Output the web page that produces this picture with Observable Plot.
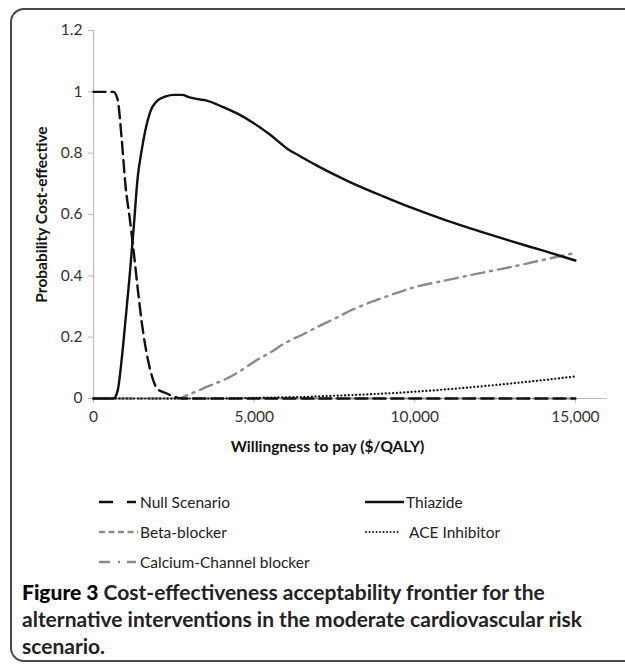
<!DOCTYPE html>
<html>
<head>
<meta charset="utf-8">
<script src="https://cdn.jsdelivr.net/npm/d3@7"></script>
<script src="https://cdn.jsdelivr.net/npm/@observablehq/plot@0.6"></script>
<style>
  html, body { margin: 0; padding: 0; background: #fff; width: 625px; height: 664px; overflow: hidden; }
  body { position: relative; font-family: Lato, "Open Sans", sans-serif; }
  #frame { position: absolute; left: 10px; top: 8px; width: 680px; height: 654px; border: 2px solid #4a4a4a; border-right: none; border-radius: 14px 0 0 14px; box-sizing: border-box; pointer-events: none; }
  #chart { position: absolute; left: 0; top: 0; }
  .leg { position: absolute; font-size: 15.5px; color: #222; height: 20px; line-height: 20px; white-space: nowrap; display: flex; align-items: center; }
  .leg svg { display: block; margin-right: 2px; }
  #caption { position: absolute; left: 22px; top: 578px; font-size: 21px; line-height: 27px; font-weight: bold; color: #222; white-space: nowrap; }
  #caption b { color: #000; }
</style>
</head>
<body>
<div id="chart"></div>
<div id="legend"></div>
<div id="caption"><b>Figure 3</b> Cost-effectiveness acceptability frontier for the<br>alternative interventions in the moderate cardiovascular risk<br>scenario.</div>
<div id="frame"></div>
<script>
// Willingness to pay ($/QALY) grid
const wtp = [0, 250, 500, 625, 750, 875, 1000, 1125, 1250, 1375, 1500, 1750, 2000, 2250, 2500, 2750, 3000, 3250, 3500, 4000, 4500, 5000, 5500, 6000, 6500, 7000, 7500, 8000, 9000, 10000, 11000, 12000, 13000, 14000, 15000];
const nullScenario = [1, 1, 1, 1, 0.975, 0.85, 0.69, 0.59, 0.48, 0.36, 0.25, 0.10, 0.03, 0.018, 0.006, 0, 0, 0, 0, 0, 0, 0, 0, 0, 0, 0, 0, 0, 0, 0, 0, 0, 0, 0, 0];
const thiazide = [0, 0, 0, 0, 0.025, 0.125, 0.26, 0.40, 0.555, 0.72, 0.81, 0.93, 0.972, 0.985, 0.99, 0.99, 0.982, 0.976, 0.972, 0.952, 0.928, 0.897, 0.86, 0.817, 0.786, 0.757, 0.73, 0.705, 0.66, 0.618, 0.58, 0.546, 0.513, 0.482, 0.45];
const betaBlocker = [0, 0, 0, 0, 0, 0, 0, 0, 0, 0, 0, 0, 0, 0, 0, 0, 0, 0, 0, 0, 0, 0, 0, 0, 0, 0, 0, 0, 0, 0, 0, 0, 0, 0, 0];
const aceInhibitor = [0, 0, 0, 0, 0, 0, 0, 0, 0, 0, 0, 0, 0, 0, 0, 0, 0, 0, 0, 0, 0.001, 0.002, 0.003, 0.004, 0.005, 0.007, 0.009, 0.011, 0.016, 0.022, 0.03, 0.039, 0.049, 0.06, 0.072];
const calciumChannel = [0, 0, 0, 0, 0, 0, 0, 0, 0, 0, 0, 0, 0, 0, 0, 0.003, 0.015, 0.025, 0.037, 0.058, 0.085, 0.12, 0.15, 0.183, 0.208, 0.235, 0.26, 0.287, 0.328, 0.363, 0.386, 0.408, 0.429, 0.452, 0.475];

const xTicks = [0, 5000, 10000, 15000];
const yTicks = [0, 0.2, 0.4, 0.6, 0.8, 1, 1.2];
const xTitle = "Willingness to pay ($/QALY)";
const yTitle = "Probability Cost-effective";

const seriesNames = ["Null Scenario", "Thiazide", "Beta-blocker", "ACE Inhibitor", "Calcium-Channel blocker"];
const seriesValues = [nullScenario, thiazide, betaBlocker, aceInhibitor, calciumChannel];
const styles = {
  "Null Scenario": {stroke: "#111", strokeWidth: 2.4, strokeDasharray: "12,6"},
  "Thiazide": {stroke: "#111", strokeWidth: 2.4},
  "Beta-blocker": {stroke: "#8a8a8a", strokeWidth: 2.2, strokeDasharray: "7,4"},
  "ACE Inhibitor": {stroke: "#111", strokeWidth: 2.2, strokeDasharray: "0.1,3.6", strokeLinecap: "round"},
  "Calcium-Channel blocker": {stroke: "#8a8a8a", strokeWidth: 2.4, strokeDasharray: "13,6,2,6"}
};
const legendSwatch = {
  "Null Scenario": "14,14,9,20",
  "Thiazide": null,
  "Beta-blocker": "6,3.5",
  "ACE Inhibitor": "0.1,3.4",
  "Calcium-Channel blocker": "11,8,2,7,9"
};

const table = s => wtp.map((x, i) => ({x, y: seriesValues[seriesNames.indexOf(s)][i]}));
const drawOrder = ["Beta-blocker", "Calcium-Channel blocker", "ACE Inhibitor", "Null Scenario", "Thiazide"];

const plot = Plot.plot({
  width: 625,
  height: 470,
  marginLeft: 93,
  marginRight: 18,
  marginTop: 30,
  marginBottom: 72,
  x: {domain: [0, 16000]},
  y: {domain: [0, 1.2]},
  style: {fontFamily: "Lato, 'Open Sans', sans-serif", fontSize: "15.5px", background: "transparent", overflow: "visible"},
  marks: [
    Plot.ruleY([0], {stroke: "#bdbdbd", strokeWidth: 1.2}),
    Plot.ruleX([0], {stroke: "#bdbdbd", strokeWidth: 1.2}),
    Plot.axisX({ticks: xTicks, tickSize: 5, tickPadding: 7, tickFormat: d3.format(","), stroke: "#bdbdbd", fill: "#333", label: null}),
    Plot.axisY({ticks: yTicks, tickSize: 5, tickPadding: 6, tickFormat: d => String(d), stroke: "#bdbdbd", fill: "#333", label: null}),
    ...drawOrder.map(s => Plot.line(table(s), {x: "x", y: "y", curve: "monotone-x", ...styles[s]})),
    Plot.text([xTitle], {frameAnchor: "bottom", textAnchor: "middle", lineAnchor: "middle", dx: -23, dy: 49, fontWeight: "bold", fontSize: 15.5, fill: "#111"}),
    Plot.text([yTitle], {frameAnchor: "left", textAnchor: "middle", lineAnchor: "middle", rotate: -90, dx: -51, fontWeight: "bold", fontSize: 15.5, fill: "#111"})
  ]
});
document.getElementById("chart").appendChild(plot);

// legend
const legendPos = {
  "Null Scenario": [99, 502],
  "Thiazide": [365, 502],
  "Beta-blocker": [99, 532],
  "ACE Inhibitor": [365, 532],
  "Calcium-Channel blocker": [99, 562]
};
const legend = document.getElementById("legend");
for (const s of seriesNames) {
  const [lx, ly] = legendPos[s];
  const div = document.createElement("div");
  div.className = "leg";
  div.style.left = lx + "px";
  div.style.top = (ly - 10) + "px";
  const st = styles[s];
  const svg = d3.create("svg").attr("width", 39).attr("height", 10);
  const ln = svg.append("line").attr("x1", 0).attr("x2", 39).attr("y1", 5).attr("y2", 5)
    .attr("stroke", st.stroke).attr("stroke-width", s === "ACE Inhibitor" ? 1.8 : 2.6);
  if (legendSwatch[s]) ln.attr("stroke-dasharray", legendSwatch[s]);
  if (s === "ACE Inhibitor") ln.attr("stroke-linecap", "round").attr("x1", 1).attr("x2", 36);
  div.appendChild(svg.node());
  const t = document.createElement("span");
  t.textContent = s;
  if (s === "ACE Inhibitor") t.style.marginLeft = "3px";
  div.appendChild(t);
  legend.appendChild(div);
}
</script>
</body>
</html>
